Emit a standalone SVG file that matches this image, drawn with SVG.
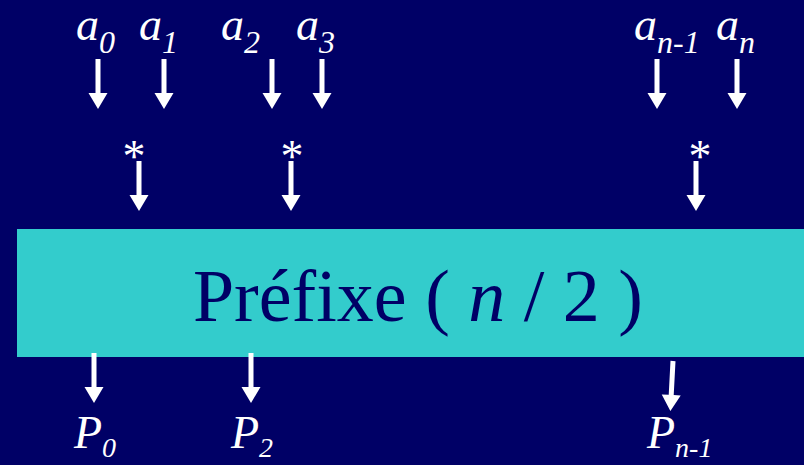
<svg xmlns="http://www.w3.org/2000/svg" xmlns:xlink="http://www.w3.org/1999/xlink" width="804" height="465" viewBox="0 0 804 465">
<style>
text{font-family:'Liberation Serif','Tinos','Times New Roman','DejaVu Serif',serif}
.lbl{font-style:italic;fill:#ffffff;font-size:46px}
.sub{font-size:32px}
.psub{font-size:28px}
.star{fill:#ffffff;font-size:46px}
.box{fill:#33cccc}
.title{fill:#000066;font-size:74px}
.arr{fill:#ffffff}
</style>
<defs>
<path id="arrow" d="M-2.5,0 H2.5 V34 H9.5 L0,50 L-9.5,34 H-2.5 Z"/>
</defs>
<rect width="804" height="465" fill="#000066"/>
<g id="prefix">
<rect class="box" x="17" y="229" width="787" height="128"/>
<text class="title" x="418" y="321" text-anchor="middle">Préfixe ( <tspan font-style="italic">n</tspan> / 2 )</text>
</g>
<g id="a0"><text class="lbl" x="76" y="40">a<tspan class="sub" dy="13">0</tspan></text></g>
<g id="a1"><text class="lbl" x="139" y="40">a<tspan class="sub" dy="13">1</tspan></text></g>
<g id="a2"><text class="lbl" x="221" y="40">a<tspan class="sub" dy="13">2</tspan></text></g>
<g id="a3"><text class="lbl" x="296" y="40">a<tspan class="sub" dy="13">3</tspan></text></g>
<g id="an1"><text class="lbl" x="634" y="40">a<tspan class="sub" dy="13">n-1</tspan></text></g>
<g id="an"><text class="lbl" x="716" y="40">a<tspan class="sub" dy="13">n</tspan></text></g>
<g id="m0"><text class="star" x="134" y="172" text-anchor="middle">*</text></g>
<g id="m1"><text class="star" x="292" y="172" text-anchor="middle">*</text></g>
<g id="m2"><text class="star" x="700" y="172" text-anchor="middle">*</text></g>
<g id="p0"><text class="lbl" x="74" y="448">P<tspan class="psub" dy="9">0</tspan></text></g>
<g id="p2"><text class="lbl" x="231" y="448">P<tspan class="psub" dy="9">2</tspan></text></g>
<g id="pn1"><text class="lbl" x="647" y="448">P<tspan class="psub" dy="9">n-1</tspan></text></g>
<g id="connectors" class="arr">
<use href="#arrow" xlink:href="#arrow" x="98" y="59"/>
<use href="#arrow" xlink:href="#arrow" x="164" y="59"/>
<use href="#arrow" xlink:href="#arrow" x="272" y="59"/>
<use href="#arrow" xlink:href="#arrow" x="322" y="59"/>
<use href="#arrow" xlink:href="#arrow" x="657" y="59"/>
<use href="#arrow" xlink:href="#arrow" x="737" y="59"/>
<use href="#arrow" xlink:href="#arrow" x="139" y="161"/>
<use href="#arrow" xlink:href="#arrow" x="291" y="161"/>
<use href="#arrow" xlink:href="#arrow" x="696" y="161"/>
<use href="#arrow" xlink:href="#arrow" x="94" y="353"/>
<use href="#arrow" xlink:href="#arrow" x="251" y="353"/>
<use href="#arrow" xlink:href="#arrow" transform="translate(673 361) rotate(3)"/>
</g>
</svg>
